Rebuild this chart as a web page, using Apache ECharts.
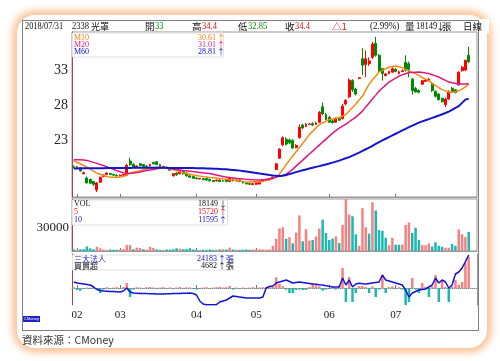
<!DOCTYPE html>
<html><head><meta charset="utf-8">
<script src="https://cdn.jsdelivr.net/npm/echarts@6/dist/echarts.min.js"></script>
<style>
html,body{margin:0;padding:0;background:#fff;}
#frame{position:absolute;left:17px;top:15px;width:470px;height:333px;border-radius:18px;background:#fff;box-shadow:0 0 7px 5px rgba(249,188,140,0.85);}
#box{position:absolute;left:22px;top:20px;width:457px;height:311px;border:1px solid #808080;box-sizing:border-box;}
#chart{position:absolute;left:0;top:0;width:500px;height:361px;}
</style></head>
<body>
<div id="frame"></div><div id="box"></div>
<div id="chart"></div>
<script>
// ---- DATA ----
const monthDays = [
 ['01',[31]],
 ['02',[1,2,5,6,7,8,9,12,21,22,23,26,27]],
 ['03',[1,2,5,6,7,8,9,12,13,14,15,16,19,20,21,22,23,26,27,28,29,30,31]],
 ['04',[2,3,9,10,11,12,13,16,17,18,19,20,23,24,25,26,27,30]],
 ['05',[2,3,4,7,8,9,10,11,14,15,16,17,18,21,22,23,24,25,28,29,30,31]],
 ['06',[1,4,5,6,7,8,11,12,13,14,15,19,20,21,22,25,26,27,28,29]],
 ['07',[2,3,4,5,6,9,10,11,12,13,16,17,18,19,20,23,24,25,26,27,30,31]],
 ['08',[1]]
];
const monthLabels = ['02','03','04','05','06','07'];
const priceTicks = [23,28,33];
const volTicks = [30000];

const opens = [19.3,19.2,19.1,18.3,17.7,17.5,17.2,16.0,17.1,17.9,
18.2,18.35,18.2,18.1,18.0,18.1,18.1,20.1,19.6,19.2,
19.7,19.6,19.4,19.4,19.9,20.0,19.6,19.3,19.2,19.0,
18.0,18.4,18.3,18.6,18.4,18.0,17.9,17.7,17.55,17.6,
17.6,17.5,17.35,17.3,17.4,17.3,17.5,17.2,17.5,17.3,
17.4,17.2,17.0,16.9,16.75,16.8,16.85,17.2,17.35,17.5,
17.6,18.9,20.5,22.4,23.2,23.1,23.0,22.0,23.4,25.2,
25.0,25.3,25.4,25.3,25.6,27.8,26.7,26.3,25.8,25.6,
26.1,26.1,28.2,29.2,31.5,30.3,31.8,34.6,33.8,33.9,
34.8,36.8,35.1,33.2,32.2,32.5,32.7,33.1,32.5,32.8,
34.1,33.9,31.7,30.4,30.1,31.0,31.4,31.5,31.0,30.0,
29.6,29.0,28.1,28.9,30.4,30.2,30.9,32.9,33.0,35.1];
const closes = [19.2,19.3,18.7,18.45,17.0,16.95,16.8,17.0,17.8,18.1,
18.4,18.2,18.1,18.0,18.1,18.2,19.5,19.6,19.2,19.4,
19.45,19.3,19.35,19.6,19.7,19.6,19.3,19.35,19.1,18.8,
18.3,18.15,18.7,18.3,18.0,17.8,17.65,17.6,17.65,17.45,
17.4,17.3,17.2,17.4,17.2,17.25,17.2,17.7,17.3,17.4,
17.2,17.0,16.85,16.8,16.9,17.0,17.2,17.4,17.5,17.6,
17.8,19.7,21.8,23.4,22.5,22.7,21.95,22.3,24.9,24.8,
25.3,25.35,25.2,25.5,27.0,26.8,26.0,25.6,25.55,26.1,
25.9,27.9,28.7,31.6,30.2,29.6,31.9,33.7,34.6,34.3,
36.7,35.1,32.9,32.5,32.45,32.8,33.2,32.8,32.75,32.9,
33.0,33.1,30.1,29.9,29.85,31.5,31.6,31.7,30.1,29.3,
28.8,28.5,28.9,30.0,29.9,29.8,32.7,33.4,34.4,34.2];
const lows = [19.1,19.0,18.6,18.2,16.9,16.9,16.6,15.7,17.0,17.8,
18.1,18.1,18.0,17.9,17.9,18.0,18.0,19.4,19.1,19.1,
19.3,19.2,19.2,19.3,19.6,19.5,19.2,19.2,19.0,18.7,
17.9,18.0,18.2,18.2,17.9,17.7,17.6,17.5,17.5,17.4,
17.3,17.2,17.1,17.2,17.1,17.2,17.1,17.1,17.2,17.2,
17.1,16.9,16.8,16.7,16.7,16.7,16.8,17.1,17.3,17.4,
17.5,18.8,20.4,22.2,22.3,22.5,21.8,21.9,23.3,24.6,
24.9,25.2,25.1,25.2,25.5,26.6,25.9,25.5,25.4,25.5,
25.8,26.0,28.0,29.0,29.9,29.4,31.7,32.3,32.0,33.6,
34.6,34.9,32.6,31.5,32.1,32.4,32.6,32.7,32.4,32.7,
32.8,32.0,29.5,29.8,29.7,30.9,31.3,31.4,29.9,29.1,
28.7,28.4,27.75,28.8,29.8,29.7,30.8,32.8,32.85,34.0];
const highs = [19.5,19.4,19.2,18.6,17.9,17.6,17.3,17.1,17.9,18.2,
18.5,18.4,18.3,18.2,18.2,18.3,19.7,20.6,19.8,19.5,
19.8,19.7,19.5,19.7,20.0,20.1,19.7,19.4,19.3,19.1,
18.4,18.5,18.8,18.7,18.5,18.1,18.0,17.8,17.7,17.7,
17.7,17.6,17.4,17.5,17.5,17.4,17.6,17.8,17.6,17.5,
17.5,17.3,17.1,17.0,17.0,17.1,17.3,17.5,17.6,17.7,
17.9,19.8,21.9,23.6,23.5,23.3,23.2,22.5,25.3,25.4,
25.5,25.5,25.6,25.7,27.2,28.4,26.9,26.5,26.0,26.3,
26.2,28.2,28.9,31.8,31.7,30.5,32.0,36.1,35.8,34.8,
37.0,37.7,35.3,33.3,32.6,32.9,33.4,33.3,32.9,33.1,
35.1,34.2,31.9,30.6,30.3,31.6,31.8,31.9,31.2,30.1,
29.7,29.1,29.1,30.1,30.6,30.3,32.8,33.6,34.4,36.3];

const ma10 = [20.16,19.93,19.7,19.47,19.24,18.96,18.67,18.39,18.22,18.06,
17.89,17.84,17.8,17.75,17.82,17.89,18.14,18.39,18.51,18.62,
18.74,18.85,18.96,19.06,19.17,19.17,19.17,19.17,19.08,18.98,
18.89,18.75,18.6,18.46,18.34,18.23,18.11,18.04,17.96,17.89,
17.84,17.78,17.73,17.68,17.62,17.57,17.51,17.46,17.4,17.33,
17.26,17.18,17.11,17.13,17.15,17.16,17.18,17.25,17.33,17.4,
17.61,17.82,18.25,18.91,19.57,20.23,20.82,21.41,22.0,22.62,
23.23,23.85,24.32,24.8,25.27,25.51,25.74,25.98,26.07,26.17,
26.26,26.48,26.69,27.19,27.68,28.18,28.75,29.31,30.16,31.01,
31.58,32.15,32.72,32.96,33.19,33.43,33.5,33.57,33.46,33.35,
33.1,32.86,32.68,32.5,32.22,31.94,31.72,31.51,31.15,30.8,
30.51,30.23,30.05,29.88,29.88,29.88,30.09,30.3,30.61,31.0];
const ma20 = [20.30,20.29,20.28,20.25,20.19,20.05,19.91,19.77,19.61,19.47,
19.28,19.10,18.91,18.74,18.57,18.42,18.32,18.36,18.42,18.48,
18.56,18.66,18.76,18.83,18.91,19.01,19.10,19.17,19.11,19.03,
18.96,18.89,18.83,18.77,18.72,18.66,18.60,18.55,18.49,18.43,
18.38,18.32,18.22,18.12,18.02,17.92,17.82,17.77,17.71,17.65,
17.60,17.54,17.50,17.47,17.43,17.40,17.41,17.44,17.47,17.58,
17.70,17.82,17.98,18.08,18.25,18.55,18.96,19.38,19.81,20.23,
20.66,21.09,21.51,21.94,22.36,22.79,23.21,23.64,24.06,24.42,
24.77,25.06,25.34,25.67,26.01,26.33,26.76,27.18,27.75,28.32,
28.89,29.45,30.02,30.45,30.87,31.30,31.58,31.87,32.15,32.32,
32.49,32.65,32.67,32.70,32.72,32.65,32.57,32.50,32.33,32.18,
32.01,31.77,31.54,31.30,31.20,31.11,31.03,31.02,31.01,31.1];
const ma60 = [19.05,19.05,19.06,19.06,19.07,19.07,19.08,19.08,19.09,19.09,
19.1,19.1,19.11,19.11,19.12,19.12,19.13,19.13,19.14,19.14,
19.15,19.15,19.15,19.15,19.15,19.15,19.15,19.14,19.14,19.13,
19.13,19.12,19.12,19.11,19.11,19.1,19.1,19.09,19.08,19.07,
19.05,19.03,19.01,18.99,18.97,18.95,18.92,18.88,18.84,18.79,
18.74,18.68,18.62,18.55,18.48,18.41,18.34,18.27,18.2,18.12,
18.05,18.0,17.97,18.02,18.12,18.25,18.39,18.53,18.67,18.79,
18.91,19.03,19.15,19.27,19.38,19.5,19.62,19.74,19.88,20.02,
20.16,20.33,20.49,20.66,20.87,21.09,21.3,21.53,21.77,22.0,
22.26,22.53,22.79,23.03,23.26,23.5,23.73,23.97,24.2,24.44,
24.67,24.91,25.12,25.34,25.55,25.72,25.88,26.05,26.22,26.38,
26.55,26.74,26.92,27.11,27.37,27.63,27.89,28.35,28.81,28.95];

const volumes = [2000,1800,2200,2500,5900,3500,2300,5500,3500,2000,
1500,1800,1500,1600,1800,2500,8000,7700,2300,4500,
4000,2300,1800,5500,4000,2000,1500,1500,2000,1800,
2300,3500,3000,2300,2500,3500,2000,1500,1500,1800,
1500,2000,1500,1800,2000,2300,2000,4500,2000,1800,
1500,1800,2000,1500,2000,1800,2300,2000,1800,2000,
6800,16000,29500,31000,16000,18000,10000,24000,46500,12700,
28600,13600,14500,19000,29500,41000,23600,14500,16000,19000,
10500,34000,68000,47700,45500,21800,6800,56000,31000,22700,
63600,53000,27300,26400,17300,7700,17300,8200,8200,8200,
34000,37300,23600,30500,14500,7700,7700,10000,5900,11400,
6800,5500,4300,4300,9100,6800,28200,21800,18149,25000];

const netBuy = [150,-400,-500,-200,100,-150,100,-300,-940,-300,
150,-100,100,150,-100,200,940,-1700,-300,150,
100,-100,150,200,100,-100,100,150,-100,100,
-150,100,200,-100,150,100,-150,-300,-200,100,
150,-100,100,150,200,100,150,380,-300,100,
-150,100,-100,100,150,-100,100,150,200,150,
300,2000,800,300,-300,-940,-940,-375,-300,-375,
-375,200,940,500,300,-500,-300,-200,200,-300,
400,3760,-2630,2070,-2630,-940,375,375,200,-940,
300,-1700,-300,2440,-940,200,300,-200,150,-300,
-3200,-2630,1880,-300,-940,940,200,-1700,300,2440,
-2630,1500,200,-2630,300,1500,600,1130,4682,5830];

const instHold = [18036,17730,17577,17424,17271,17118,16506,15741,15436,15283,
15221,15160,15099,15038,14977,15283,16200,14977,14671,14610,
14548,14518,14487,14457,14426,14365,14365,14396,14426,14457,
14487,14518,14548,14579,14610,14671,14518,14059,12224,11306,
11100,11100,11100,11100,11918,12224,12530,13141,13753,13600,
13447,13294,13141,13141,13141,13141,13141,13447,16200,16659,
16812,17730,18036,18342,18648,18189,17730,17883,18036,17883,
17730,17577,17424,17332,17210,17118,16904,16720,16506,16506,
16506,19259,17118,18648,16506,17424,17638,17516,17424,17577,
17730,17883,18036,20177,18648,18342,18036,17730,17424,17118,
15589,13447,14671,15130,15589,15741,15894,16506,17118,19259,
17730,18648,18036,16200,17118,20483,21095,22318,24183,26295];

// ---- BUILD ----
const dates = [];
const monthStart = {};
monthDays.forEach(([m, days]) => {
  days.forEach((d, k) => {
    if (k === 0 && monthLabels.indexOf(m) >= 0) monthStart[dates.length] = m;
    dates.push('2018-' + m + '-' + String(d).padStart(2, '0'));
  });
});
const cats = dates.concat(['', ' ']);
const UP = '#ff0000', DOWN = '#008a00', VUP = '#f58282', VDN = '#1cb8b0';
const kData = opens.map((o, i) => [o, closes[i], lows[i], highs[i]]);
const volData = volumes.map((v, i) => {
  const prev = i > 0 ? closes[i - 1] : opens[0];
  return { value: v, itemStyle: { color: closes[i] >= prev ? VUP : VDN } };
});
const netData = netBuy.map(v => ({ value: v, itemStyle: { color: v >= 0 ? VUP : VDN } }));

const tickFn = (idx) => monthStart[idx] !== undefined;
const serif = '"Liberation Serif","Times New Roman",serif';
const cjk = '"Noto Sans CJK TC","Noto Sans",sans-serif';
const mix = '"Liberation Serif","Noto Sans CJK TC",serif';

function xAx(gi, showLabel, dotted) {
  return {
    type: 'category', gridIndex: gi, data: cats, boundaryGap: true,
    axisLine: { show: true, lineStyle: { color: '#999', width: 1, type: dotted ? 'dotted' : 'solid' } },
    axisTick: { show: true, inside: true, length: 3, alignWithLabel: true, interval: tickFn, lineStyle: { color: '#777' } },
    axisLabel: { show: showLabel, interval: tickFn, formatter: (v, i) => monthStart[i] || '', fontFamily: serif, fontSize: 11, color: '#222', margin: 5 },
    splitLine: { show: false }
  };
}
const maroon = '#9a4a4a';
function txt(x, y, text, fill, size, align, family, sx) {
  return { type: 'text', silent: true, z: 100, x: x, y: y, scaleX: sx || 1,
    style: { x: 0, y: 0, text: text, fill: fill, font: size + 'px ' + (family || serif), align: align || 'left', verticalAlign: 'middle', textAlign: align || 'left', textVerticalAlign: 'middle' } };
}
function rect(x, y, w, h, fill, stroke) {
  return { type: 'rect', silent: true, z: 90, shape: { x: x, y: y, width: w, height: h }, style: { fill: fill, stroke: stroke || null, lineWidth: 1 } };
}

const HF = 9.5, HC = 9.5;
const graphics = [
  // header
  txt(25, 26, '2018/07/31', '#111', HF, 'left', serif, 0.88),
  txt(72, 26, '2338', '#111', HF, 'left', serif, 0.9),
  txt(91, 26, '光罩', '#111', HC, 'left', cjk, 0.95),
  txt(145, 26, '開', '#111', HC, 'left', cjk), txt(155, 26, '33', '#0a8a0a', HF, 'left', serif, 0.9),
  txt(192, 26, '高', '#111', HC, 'left', cjk), txt(202, 26, '34.4', '#e01010', HF, 'left', serif, 0.9),
  txt(238, 26, '低', '#111', HC, 'left', cjk), txt(248, 26, '32.85', '#0a8a0a', HF, 'left', serif, 0.9),
  txt(285, 26, '收', '#111', HC, 'left', cjk), txt(295, 26, '34.4', '#e01010', HF, 'left', serif, 0.9),
  txt(332, 26, '△1', '#e01010', HC, 'left', cjk),
  txt(370, 26, '(2.99%)', '#111', HF, 'left', serif, 0.95),
  txt(405, 26, '量', '#111', HC, 'left', cjk), txt(416, 26, '18149', '#111', HF, 'left', serif, 0.9),
  txt(436, 26, '↓', '#111', HC, 'left', cjk), txt(442, 26, '張', '#111', HC, 'left', cjk),
  txt(463, 26, '日線', '#111', HC, 'left', cjk),
  rect(479, 19, 10, 14, '#fff'),
  // MA legend
  rect(72.5, 33, 151, 24, 'rgba(255,255,255,0.95)', '#e2e2e2'),
  txt(74, 38, 'M10', '#f08010', 8), txt(216, 38, '30.61', '#f08010', 8, 'right'), txt(217, 38, '↑', '#f08010', 8, 'left', cjk),
  txt(74, 45, 'M20', '#e0157f', 8), txt(216, 45, '31.01', '#e0157f', 8, 'right'), txt(217, 45, '↑', '#e0157f', 8, 'left', cjk),
  txt(74, 52, 'M60', '#1010d0', 8), txt(216, 52, '28.81', '#1010d0', 8, 'right'), txt(217, 52, '↑', '#1010d0', 8, 'left', cjk),
  // Volume legend
  rect(72.5, 200, 155, 25, 'rgba(255,255,255,0.95)', '#e2e2e2'),
  txt(74, 204, 'VOL', '#111', 8), txt(218, 204, '18149', '#111', 8, 'right'), txt(219, 204, '↓', '#111', 8, 'left', cjk),
  txt(74, 212, '5', '#e01010', 8), txt(218, 212, '15720', '#e01010', 8, 'right'), txt(219, 212, '↑', '#e01010', 8, 'left', cjk),
  txt(74, 220, '10', '#1010d0', 8), txt(218, 220, '11595', '#1010d0', 8, 'right'), txt(219, 220, '↑', '#1010d0', 8, 'left', cjk),
  // Institutional legend
  rect(72.5, 255, 157, 15, 'rgba(255,255,255,0.95)', '#e2e2e2'),
  txt(74, 259, '三大法人', '#1a1ab0', 8, 'left', cjk), txt(217, 259, '24183', '#1a1ab0', 8, 'right'), txt(218, 259, '↑張', '#1a1ab0', 8, 'left', cjk),
  txt(74, 266, '買賣超', '#111', 8, 'left', cjk), txt(217, 266, '4682', '#111', 8, 'right'), txt(218, 266, '↑張', '#111', 8, 'left', cjk),
  // CMoney tag
  rect(23, 316, 17, 6, '#2020c8'),
  txt(31.5, 319, 'CMoney', '#ffffff', 4, 'center', 'sans-serif'),
  // source
  txt(22, 340, '資料來源：CMoney', '#333', 10.5, 'left', cjk)
];

const chart = echarts.init(document.getElementById('chart'), null, { renderer: 'canvas' });
chart.setOption({
  animation: false,
  backgroundColor: 'transparent',
  grid: [
    { left: 72, top: 32, width: 405, height: 165, show: true, borderColor: '#999', borderWidth: 1 },
    { left: 72, top: 199, width: 405, height: 52, show: true, borderColor: '#999', borderWidth: 1 },
    { left: 72, top: 254, width: 405, height: 51, show: false }
  ],
  xAxis: [xAx(0, false, false), xAx(1, false, false), xAx(2, true, true)],
  yAxis: [
    { type: 'value', gridIndex: 0, min: 15, max: 38.4, interval: 1,
      axisLine: { show: true, lineStyle: { color: maroon, width: 1 } }, axisTick: { show: false }, splitLine: { show: false },
      axisLabel: { formatter: v => priceTicks.indexOf(v) >= 0 ? String(v) : '', fontFamily: serif, fontSize: 14, color: '#222', margin: 4, showMaxLabel: false } },
    { type: 'value', gridIndex: 1, min: 0, max: 68000, interval: 30000,
      axisLine: { show: true, lineStyle: { color: maroon, width: 1 } }, axisTick: { show: false }, splitLine: { show: false },
      axisLabel: { formatter: v => volTicks.indexOf(v) >= 0 ? String(v) : '', fontFamily: serif, fontSize: 13, color: '#222', margin: 3, showMaxLabel: false } },
    { type: 'value', gridIndex: 2, min: -3200, max: 6400,
      axisLine: { show: true, lineStyle: { color: maroon, width: 1 } }, axisTick: { show: false }, splitLine: { show: false }, axisLabel: { show: false } },
    { type: 'value', gridIndex: 2, min: 11000, max: 26600, position: 'right',
      axisLine: { show: true, lineStyle: { color: '#999', width: 1 } }, axisTick: { show: false }, splitLine: { show: false }, axisLabel: { show: false } }
  ],
  series: [
    { type: 'candlestick', xAxisIndex: 0, yAxisIndex: 0, data: kData, barWidth: 2.4,
      itemStyle: { color: UP, color0: DOWN, borderColor: UP, borderColor0: DOWN, borderWidth: 1 } },
    { type: 'line', name: 'M10', xAxisIndex: 0, yAxisIndex: 0, data: ma10, showSymbol: false, symbol: 'none', lineStyle: { color: '#f5890f', width: 1.5 }, z: 5 },
    { type: 'line', name: 'M20', xAxisIndex: 0, yAxisIndex: 0, data: ma20, showSymbol: false, symbol: 'none', lineStyle: { color: '#e0157f', width: 1.5 }, z: 5 },
    { type: 'line', name: 'M60', xAxisIndex: 0, yAxisIndex: 0, data: ma60, showSymbol: false, symbol: 'none', lineStyle: { color: '#1414c8', width: 2 }, z: 5 },
    { type: 'bar', xAxisIndex: 1, yAxisIndex: 1, data: volData, barWidth: 2.5 },
    { type: 'bar', xAxisIndex: 2, yAxisIndex: 2, data: netData, barWidth: 2.5,
      markLine: { silent: true, symbol: 'none', label: { show: false }, lineStyle: { type: 'dotted', color: '#888', width: 1 }, data: [{ yAxis: 0 }] } },
    { type: 'line', xAxisIndex: 2, yAxisIndex: 3, data: instHold, showSymbol: false, symbol: 'none', lineStyle: { color: '#1414d0', width: 1.5 }, z: 5 }
  ],
  graphic: graphics
});
</script>
</body></html>
